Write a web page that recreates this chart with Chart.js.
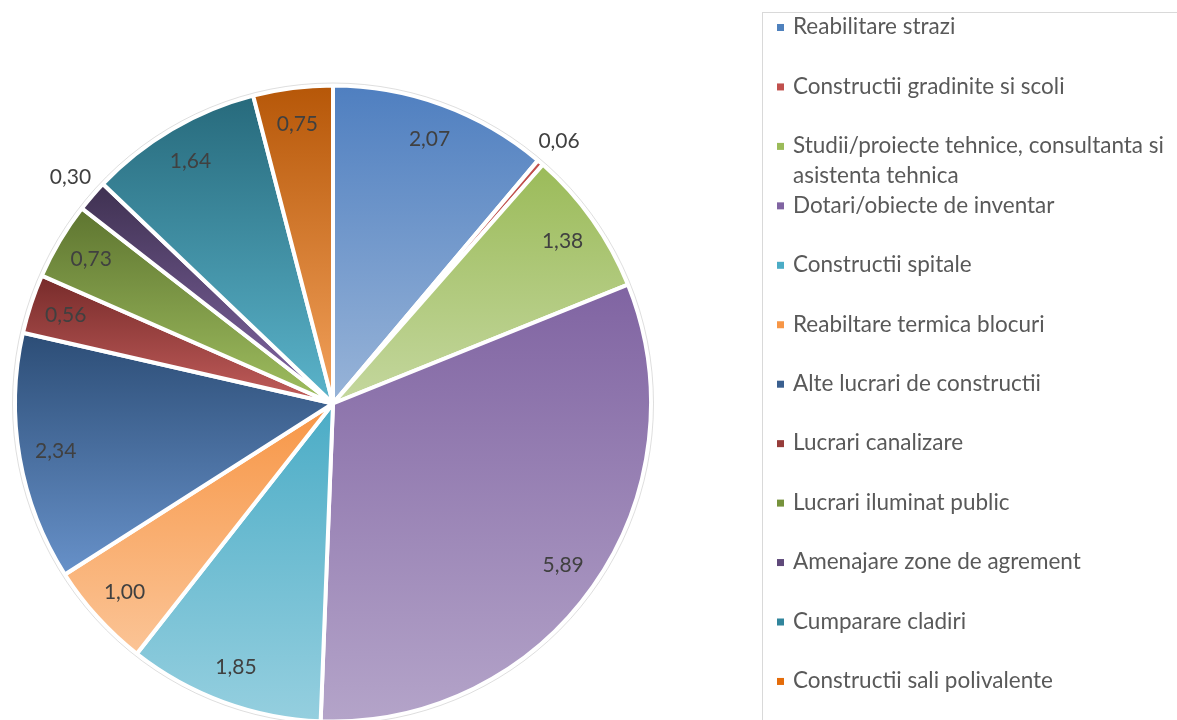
<!DOCTYPE html>
<html>
<head>
<meta charset="utf-8">
<script src="https://cdn.jsdelivr.net/npm/chart.js@4.4.1/dist/chart.umd.min.js"></script>
<style>
  html, body { margin: 0; padding: 0; background: #fff; overflow: hidden; }
</style>
</head>
<body>
<canvas id="pieChart" width="1177" height="720"></canvas>
<script>
// Chart data
const categories = [
  'Reabilitare strazi',
  'Constructii gradinite si scoli',
  'Studii/proiecte tehnice, consultanta si asistenta tehnica',
  'Dotari/obiecte de inventar',
  'Constructii spitale',
  'Reabiltare termica blocuri',
  'Alte lucrari de constructii',
  'Lucrari canalizare',
  'Lucrari iluminat public',
  'Amenajare zone de agrement',
  'Cumparare cladiri',
  'Constructii sali polivalente'
];
const values = [2.07, 0.06, 1.38, 5.89, 1.85, 1.00, 2.34, 0.56, 0.73, 0.30, 1.64, 0.75];

// legend marker colours, and the top / bottom colour of each slice gradient
const legendColors = ['#4f81bd', '#c0504d', '#9bbb59', '#8064a2', '#4bacc6', '#f79646',
                      '#3a5f8f', '#963c3a', '#76923c', '#5f497a', '#31859c', '#e46c0a'];
const topColors = ['#4f7fc0', '#c0504d', '#9bbb59', '#8064a2', '#4bacc6', '#f79646',
                   '#2c4d76', '#772b2a', '#5e7530', '#3f3151', '#276a7c', '#b65708'];
const bottomColors = ['#98b4d8', '#c0504d', '#c4d79e', '#b4a4c9', '#95cfdf', '#fbc496',
                      '#6791c9', '#c25d5b', '#a0bf60', '#8368a6', '#5bb4cb', '#f3a25c'];

const pieRadius = 318;

function sliceGradient(context) {
  const i = context.dataIndex;
  const chart = context.chart;
  const area = chart.chartArea;
  if (!area || i === undefined) return legendColors[i || 0];
  const cx = (area.left + area.right) / 2;
  const cy = (area.top + area.bottom) / 2;
  const total = values.reduce((a, b) => a + b, 0);
  let before = 0;
  for (let k = 0; k < i; k++) before += values[k];
  const a0 = -Math.PI / 2 + 2 * Math.PI * before / total;
  const a1 = a0 + 2 * Math.PI * values[i] / total;
  const ys = [cy, cy + pieRadius * Math.sin(a0), cy + pieRadius * Math.sin(a1)];
  if (a0 <= Math.PI / 2 && a1 >= Math.PI / 2) ys.push(cy + pieRadius);
  const y0 = Math.min(...ys), y1 = Math.max(...ys);
  const g = chart.ctx.createLinearGradient(0, y0, 0, y1 + 0.01);
  g.addColorStop(0, topColors[i]);
  g.addColorStop(1, bottomColors[i]);
  return g;
}

// value labels, written with a comma like the original
const valueLabels = {
  id: 'valueLabels',
  afterDatasetsDraw(chart) {
    const ctx = chart.ctx;
    const meta = chart.getDatasetMeta(0);
    ctx.save();
    ctx.font = '21px Lato';
    ctx.fillStyle = '#404040';
    ctx.textAlign = 'center';
    ctx.textBaseline = 'middle';
    meta.data.forEach((arc, i) => {
      const mid = (arc.startAngle + arc.endAngle) / 2;
      const span = arc.endAngle - arc.startAngle;
      const r = span < 0.15 ? arc.outerRadius * 1.09 : arc.outerRadius * 0.885;
      const x = arc.x + Math.cos(mid) * r;
      const y = arc.y + Math.sin(mid) * r;
      ctx.fillText(values[i].toFixed(2).replace('.', ','), x, y);
    });
    // thin grey rim around the pie
    const a = meta.data[0];
    ctx.beginPath();
    ctx.arc(a.x, a.y, a.outerRadius + 2.5, 0, Math.PI * 2);
    ctx.strokeStyle = 'rgba(0,0,0,0.13)';
    ctx.lineWidth = 1;
    ctx.stroke();
    ctx.restore();
  }
};

// legend box on the right, entries spread evenly like in Excel
const sideLegend = {
  id: 'sideLegend',
  afterDraw(chart) {
    const ctx = chart.ctx;
    ctx.save();
    ctx.strokeStyle = '#d9d9d9';
    ctx.lineWidth = 1;
    ctx.strokeRect(762.5, 12.5, 500, 800);
    ctx.font = '22.5px Lato';
    ctx.textBaseline = 'middle';
    ctx.textAlign = 'left';
    const step = 59.45;
    categories.forEach((label, i) => {
      const y = 27 + i * step;
      ctx.fillStyle = legendColors[i];
      ctx.fillRect(777, y - 3, 7, 7);
      ctx.fillStyle = '#595959';
      // simple word wrap
      const words = label.split(' ');
      let line = '';
      let ly = y;
      words.forEach(w => {
        const test = line ? line + ' ' + w : w;
        if (ctx.measureText(test).width > 382 && line) {
          ctx.fillText(line, 793, ly);
          line = w;
          ly += 30;
        } else {
          line = test;
        }
      });
      ctx.fillText(line, 793, ly);
    });
    ctx.restore();
  }
};

const ctx = document.getElementById('pieChart').getContext('2d');
const pieChart = new Chart(ctx, {
  type: 'pie',
  data: {
    labels: categories,
    datasets: [{
      data: values,
      backgroundColor: sliceGradient,
      borderColor: '#ffffff',
      borderWidth: 4
    }]
  },
  options: {
    responsive: false,
    animation: false,
    radius: pieRadius,
    layout: { padding: { left: 0, right: 511, top: 87, bottom: 0 } },
    plugins: {
      legend: { display: false },
      tooltip: { enabled: false }
    }
  },
  plugins: [valueLabels, sideLegend]
});
</script>
</body>
</html>
